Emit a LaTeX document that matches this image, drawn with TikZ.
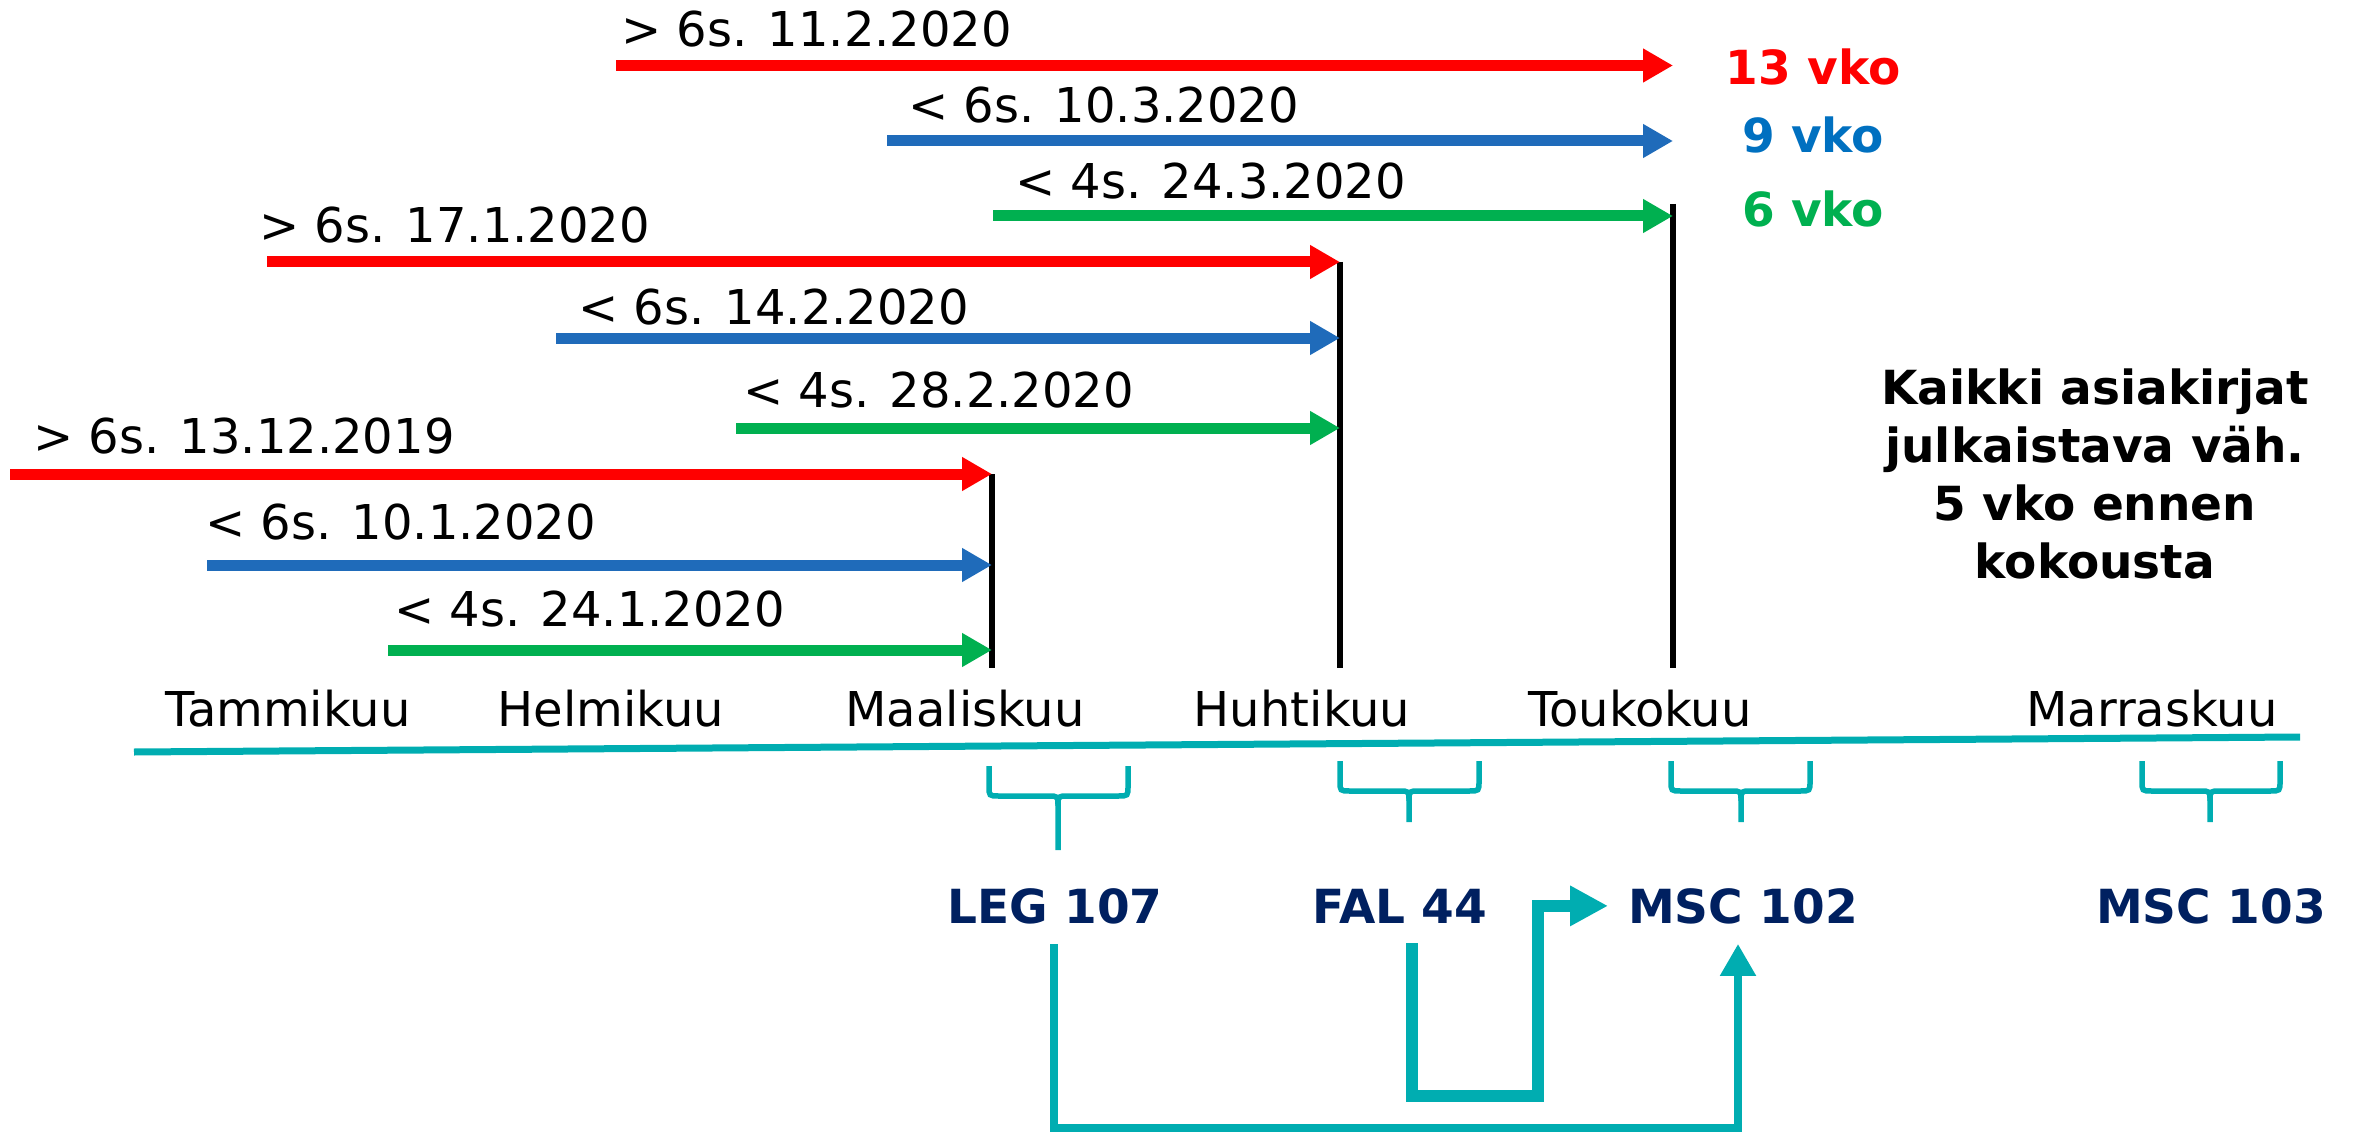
\documentclass[tikz,border=0pt]{standalone}
\usepackage{fontspec}
\setmainfont{DejaVu Sans}
\usetikzlibrary{arrows.meta}
\definecolor{cred}{RGB}{255,0,0}
\definecolor{cblue}{RGB}{31,107,186}
\definecolor{cgreen}{RGB}{0,176,80}
\definecolor{ctxtblue}{RGB}{0,112,192}
\definecolor{cteal}{RGB}{0,173,177}
\definecolor{cnavy}{RGB}{0,32,96}
\newcommand\bracedraw[6]{%
  \draw[brace] (#1,#4) -- (#1,#5-10) .. controls (#1,#5) .. (#1+10,#5) -- (#3-10,#5)
     .. controls (#3,#5) .. (#3,#5+10) -- (#3,#6);
  \draw[brace] (#2,#4) -- (#2,#5-10) .. controls (#2,#5) .. (#2-10,#5) -- (#3+10,#5)
     .. controls (#3,#5) .. (#3,#5+10);
}
\begin{document}
\begin{tikzpicture}[x=1pt,y=-1pt,
  darr/.style={line width=11pt,-{Triangle[length=30pt,width=32pt]}},
  datelbl/.style={anchor=base west,inner sep=0pt,font=\fontsize{48}{56}\selectfont},
  month/.style={anchor=base,inner sep=0pt,font=\fontsize{48}{56}\selectfont},
  vko/.style={anchor=base,inner sep=0pt,font=\fontsize{47}{56}\selectfont\bfseries},
  meet/.style={anchor=base,inner sep=20pt,font=\fontsize{47}{56}\selectfont\bfseries,text=cnavy},
  deadline/.style={line width=6pt,black},
  brace/.style={cteal,line width=5.5pt},
  link/.style={cteal,line width=8pt,-{Triangle[length=32pt,width=34pt]}},
  linkb/.style={cteal,line width=12pt,-{Triangle[length=38pt,width=38pt]}},
]
\path[use as bounding box] (0,0) rectangle (2354,1134);

% deadline lines
\coordinate (d1t) at (992,474);  \coordinate (d1b) at (992,668);
\coordinate (d2t) at (1340,262); \coordinate (d2b) at (1340,668);
\coordinate (d3t) at (1673,204); \coordinate (d3b) at (1673,668);
\draw[deadline] (d1t) -- (d1b);
\draw[deadline] (d2t) -- (d2b);
\draw[deadline] (d3t) -- (d3b);

% group 3 (MSC 102 deadline)
\coordinate (r3) at (616,65.5);
\coordinate (b3) at (887,141);
\coordinate (g3) at (993,216);
\draw[darr,cred] (r3) -- (r3 -| d3t);
\draw[darr,cblue] (b3) -- (b3 -| d3t);
\draw[darr,cgreen] (g3) -- (g3 -| d3t);
\node[datelbl] (lr3) at (621,47) {> 6s. 11.2.2020};
\node[datelbl] (lb3) at (908,123) {< 6s. 10.3.2020};
\node[datelbl] (lg3) at (1015,199) {< 4s. 24.3.2020};
\node[vko,text=cred] (v13) at (1813,85) {13 vko};
\node[vko,text=ctxtblue] (v9) at (1813,153) {9 vko};
\node[vko,text=cgreen] (v6) at (1813,227) {6 vko};

% group 2 (FAL 44 deadline)
\coordinate (r2) at (267,262);
\coordinate (b2) at (556,338);
\coordinate (g2) at (736,428);
\draw[darr,cred] (r2) -- (r2 -| d2t);
\draw[darr,cblue] (b2) -- (b2 -| d2t);
\draw[darr,cgreen] (g2) -- (g2 -| d2t);
\node[datelbl] (lr2) at (259,243) {> 6s. 17.1.2020};
\node[datelbl] (lb2) at (578,324) {< 6s. 14.2.2020};
\node[datelbl] (lg2) at (743,407) {< 4s. 28.2.2020};

% group 1 (LEG 107 deadline)
\coordinate (r1) at (10,474);
\coordinate (b1) at (207,565);
\coordinate (g1) at (388,650);
\draw[darr,cred] (r1) -- (r1 -| d1t);
\draw[darr,cblue] (b1) -- (b1 -| d1t);
\draw[darr,cgreen] (g1) -- (g1 -| d1t);
\node[datelbl] (lr1) at (33,453) {> 6s. 13.12.2019};
\node[datelbl] (lb1) at (205,539) {< 6s. 10.1.2020};
\node[datelbl] (lg1) at (394,626) {< 4s. 24.1.2020};

% note
\node[align=center,inner sep=0pt,font=\fontsize{47}{58}\selectfont\bfseries] (note) at (2095,474)
  {Kaikki asiakirjat\\julkaistava väh.\\5 vko ennen\\kokousta};

% months
\node[month] (m1) at (288,726) {Tammikuu};
\node[month] (m2) at (611,726) {Helmikuu};
\node[month] (m3) at (965,726) {Maaliskuu};
\node[month] (m4) at (1302,726) {Huhtikuu};
\node[month] (m5) at (1640,726) {Toukokuu};
\node[month] (m6) at (2152,726) {Marraskuu};

% time axis
\coordinate (axl) at (134,752);
\coordinate (axr) at (2300,737);
\draw[cteal,line width=7pt] (axl) -- (axr);

% braces
\bracedraw{989}{1128}{1058}{766}{796}{850}
\bracedraw{1340}{1479}{1409}{761}{791}{822}
\bracedraw{1671}{1810}{1741}{761}{791}{822}
\bracedraw{2142}{2280}{2210}{761}{791}{822}

% meetings
\node[meet] (leg) at (1055,923) {LEG 107};
\node[meet] (fal) at (1400,923) {FAL 44};
\node[meet] (msc102) at (1743,923) {MSC 102};
\node[meet] (msc103) at (2211,923) {MSC 103};

% links
\draw[link] ([xshift=-1pt]leg.south) -- ++(0,184) -| ([xshift=-5pt]msc102.south);
\draw[linkb] ([xshift=12pt]fal.south) |- (1538,1096) |- (msc102.west);
\end{tikzpicture}
\end{document}
